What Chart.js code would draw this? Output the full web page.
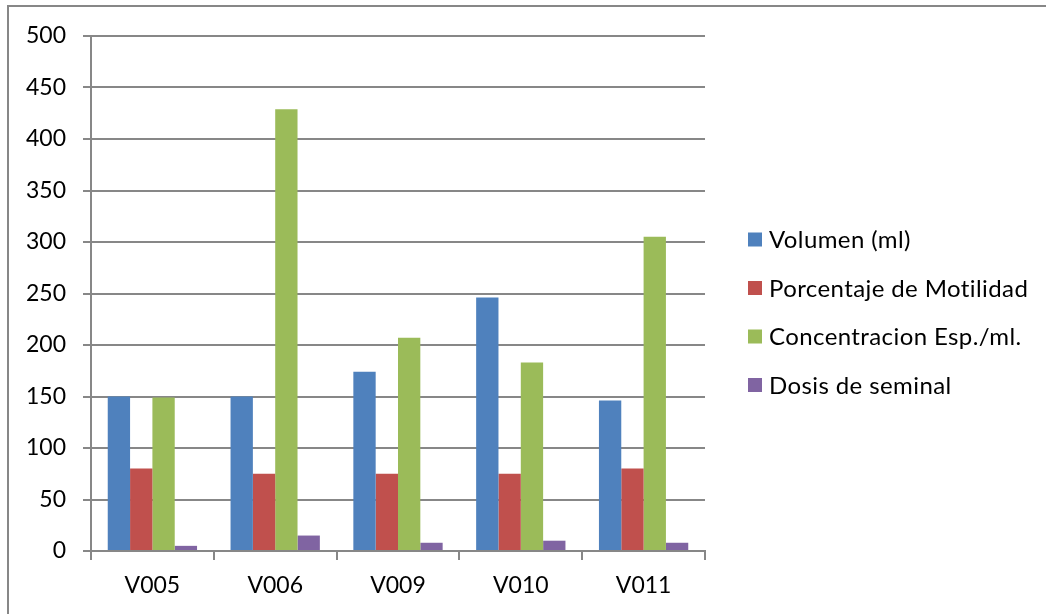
<!DOCTYPE html>
<html>
<head>
<meta charset="utf-8">
<script src="https://cdn.jsdelivr.net/npm/chart.js@4/dist/chart.umd.min.js"></script>
<style>
  html, body { margin: 0; padding: 0; background: #fff; }
  #wrap { position: relative; width: 1046px; height: 614px; }
</style>
</head>
<body>
<div id="wrap"><canvas id="chart"></canvas></div>
<script>
'use strict';

const CATEGORIES = ['V005', 'V006', 'V009', 'V010', 'V011'];

const VOLUMEN       = [150, 150, 174, 246, 146];
const MOTILIDAD     = [80, 75, 75, 75, 80];
const CONCENTRACION = [149, 429, 207, 183, 305];
const DOSIS         = [5, 15, 8, 10, 8];

const SERIES_NAMES = [
  'Volumen (ml)',
  'Porcentaje de Motilidad',
  'Concentracion Esp./ml.',
  'Dosis de seminal',
];

const COLORS = ['#4f81bd', '#c0504d', '#9bbb59', '#8064a2'];
const GRID   = '#878787';
const FONT   = 'Lato, "Noto Sans", sans-serif';

// outer frame of the chart object (only left and top edges show)
const framePlugin = {
  id: 'frame',
  beforeDraw(chart) {
    const c = chart.ctx;
    c.save();
    c.strokeStyle = GRID;
    c.lineWidth = 2;
    c.beginPath();
    c.moveTo(8, 614);
    c.lineTo(8, 6);
    c.lineTo(1046, 6);
    c.stroke();
    c.restore();
  },
};

// legend on the right, Excel style
const legendPlugin = {
  id: 'xlLegend',
  afterDraw(chart) {
    const c = chart.ctx;
    const x0 = 748, y0 = 239.5, step = 48.5, box = 14;
    c.save();
    c.font = '24px ' + FONT;
    c.letterSpacing = '0.4px';
    c.textBaseline = 'middle';
    c.textAlign = 'left';
    chart.data.datasets.forEach((ds, i) => {
      const y = y0 + i * step;
      c.fillStyle = ds.backgroundColor;
      c.fillRect(x0, y - box / 2, box, box);
      c.fillStyle = '#000';
      c.fillText(ds.label, x0 + 21, y + 1);
    });
    c.restore();
  },
};

const seriesData = [VOLUMEN, MOTILIDAD, CONCENTRACION, DOSIS];

new Chart(document.getElementById('chart'), {
  type: 'bar',
  data: {
    labels: CATEGORIES,
    datasets: seriesData.map((vals, i) => ({
      label:           SERIES_NAMES[i],
      data:            vals,
      backgroundColor: COLORS[i],
      borderWidth:     0,
      categoryPercentage: 4 / 5.5,
      barPercentage:      1,
    })),
  },
  options: {
    responsive:          true,
    maintainAspectRatio: false,
    animation:           false,
    devicePixelRatio:    1,
    layout: { padding: { left: 0, top: 36, right: 341, bottom: 0 } },
    plugins: {
      legend:  { display: false },
      tooltip: { enabled: false },
    },
    scales: {
      x: {
        offset: true,
        grid: {
          offset:          true,
          drawOnChartArea: false,
          drawTicks:       true,
          tickLength:      9,
          color:           GRID,
          lineWidth:       2,
        },
        border: { display: true, color: GRID, width: 2 },
        ticks:  { color: '#000', font: { family: FONT, size: 23 }, padding: 12 },
        afterFit: s => { s.height = 63; },
      },
      y: {
        min: 0,
        max: 500,
        grid: {
          drawTicks:  true,
          tickLength: 8,
          color:      GRID,
          lineWidth:  2,
        },
        border: { display: true, color: GRID, width: 2 },
        ticks:  { stepSize: 50, color: '#000', font: { family: FONT, size: 23 }, padding: 17 },
        afterFit: s => { s.width = 91; },
      },
    },
  },
  plugins: [framePlugin, legendPlugin],
});
</script>
</body>
</html>
